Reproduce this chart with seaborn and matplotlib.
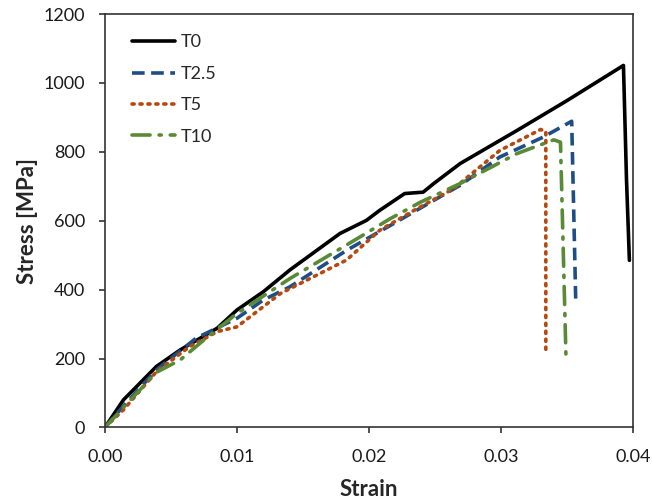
import matplotlib
matplotlib.use("Agg")
import matplotlib.pyplot as plt
import seaborn as sns
import pandas as pd

# Data
t0_strain = [0.0, 0.0014, 0.0039, 0.0057, 0.0085, 0.0100, 0.0120, 0.0140, 0.0178, 0.0198,
             0.0208, 0.0227, 0.0241, 0.0249, 0.0269, 0.0312, 0.0350, 0.03927, 0.0395, 0.03972]
t0_stress = [0, 80, 177, 225, 288, 341, 394, 457, 563, 601,
             630, 679, 683, 708, 766, 862, 949, 1051, 720, 485]

t25_strain = [0.0, 0.0014, 0.0039, 0.0069, 0.0100, 0.0120, 0.0140, 0.0183, 0.0221, 0.0234,
              0.0269, 0.0299, 0.0332, 0.03535, 0.03566]
t25_stress = [0, 62, 167, 259, 317, 370, 408, 514, 597, 626,
              703, 785, 843, 889, 360]

t5_strain = [0.0, 0.0014, 0.0039, 0.0064, 0.0085, 0.0100, 0.0133, 0.0183, 0.0208, 0.0234,
             0.0264, 0.0299, 0.0330, 0.03339, 0.03339]
t5_stress = [0, 51, 162, 234, 278, 292, 389, 486, 572, 630,
             693, 804, 865, 860, 220]

t10_strain = [0.0, 0.0014, 0.0039, 0.0057, 0.0075, 0.0100, 0.0140, 0.0191, 0.0216, 0.0239,
              0.0269, 0.0312, 0.0340, 0.0345, 0.03492]
t10_stress = [0, 58, 160, 196, 254, 331, 432, 548, 606, 654,
              708, 795, 835, 828, 200]

labels = ["T0", "T2.5", "T5", "T10"]
colors = ["#000000", "#1f4e86", "#b5490f", "#5a8a35"]

sns.set_theme(style="ticks")
plt.rcParams['font.family'] = ['Lato', 'DejaVu Sans']

fig = plt.figure(figsize=(6.52, 5.04), dpi=100)
ax = fig.add_axes([0.161, 0.152, 0.810, 0.820])

series = [(t0_strain, t0_stress), (t25_strain, t25_stress),
          (t5_strain, t5_stress), (t10_strain, t10_stress)]
styles = [dict(linestyle="-"),
          dict(dashes=(3.5, 1.8)),
          dict(dashes=(0.6, 1.6), dash_capstyle="round"),
          dict(dashes=(5, 2.5, 0.6, 2.5), dash_capstyle="round")]

for (xs, ys), lab, col, st in zip(series, labels, colors, styles):
    df = pd.DataFrame({"Strain": xs, "Stress": ys})
    sns.lineplot(data=df, x="Strain", y="Stress", sort=False, ax=ax,
                 color=col, linewidth=2.6, label=lab, estimator=None, **st)

ax.set_xlim(0, 0.04)
ax.set_ylim(0, 1200)
ax.set_xticks([0.0, 0.01, 0.02, 0.03, 0.04])
ax.set_xticklabels(["0.00", "0.01", "0.02", "0.03", "0.04"])
ax.set_yticks(range(0, 1201, 200))
ax.tick_params(axis="both", labelsize=13, length=4.5, width=1.2, color="#333333",
               direction="out", labelcolor="#1a1a1a")
ax.tick_params(axis="x", pad=11)
ax.tick_params(axis="y", pad=10)
for s in ax.spines.values():
    s.set_linewidth(1.2)
    s.set_color("#333333")
    s.set_visible(True)

ax.set_xlabel("Strain", fontsize=16, fontweight="bold", labelpad=10)
ax.set_ylabel("Stress [MPa]", fontsize=16, fontweight="bold", labelpad=4)

leg = ax.legend(loc="upper left", frameon=False, fontsize=13, handlelength=2.4,
                handletextpad=0.3, labelspacing=0.85, bbox_to_anchor=(0.02, 0.99))

fig.savefig("out.png", dpi=100)
